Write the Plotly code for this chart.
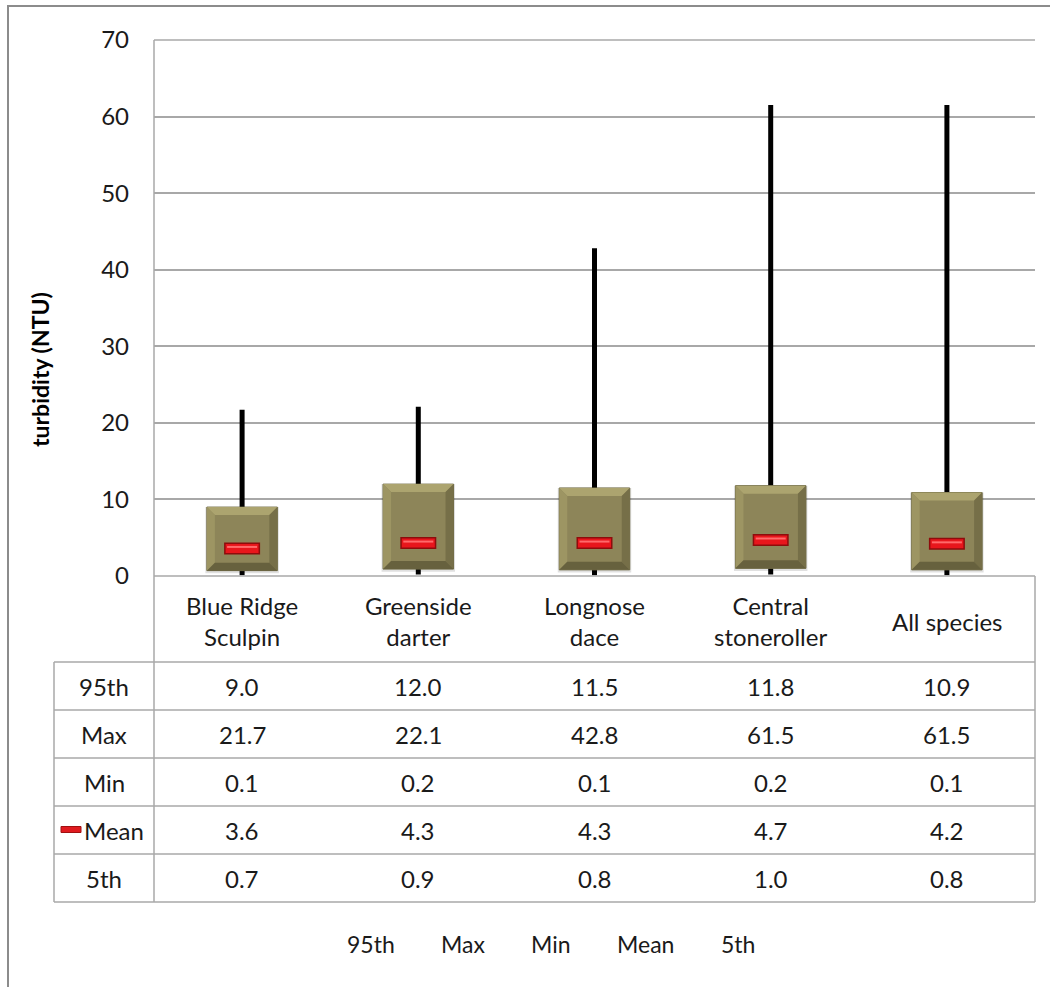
import plotly.graph_objects as go

# ---- data ----
species = ["Blue Ridge<br>Sculpin", "Greenside<br>darter", "Longnose<br>dace",
           "Central<br>stoneroller", "All species"]
p95 = [9.0, 12.0, 11.5, 11.8, 10.9]
vmax = [21.7, 22.1, 42.8, 61.5, 61.5]
vmin = [0.1, 0.2, 0.1, 0.2, 0.1]
vmean = [3.6, 4.3, 4.3, 4.7, 4.2]
p5 = [0.7, 0.9, 0.8, 1.0, 0.8]
row_names = ["95th", "Max", "Min", "Mean", "5th"]
row_values = [p95, vmax, vmin, vmean, p5]
y_ticks = [0, 10, 20, 30, 40, 50, 60, 70]

W, H = 1050, 987
FONT = "Lato"
FS = 24
TXT = "#1a1a1a"
GRID = "#a8a8a8"

# plot area in pixels
PL, PR, PT, PB = 154, 1035, 40, 576
TBL_L = 54
ROW_TOP = 662
ROW_H = 48


def px(x):
    return x / W


def py(y):
    return 1 - y / H


xs = list(range(len(species)))
cat_px = (PR - PL) / len(species)
unit_px = (PB - PT) / (y_ticks[-1] - y_ticks[0])

box_w = 0.40
whisk_w = 5 / cat_px
bev_x = 8 / cat_px
bev_y = 8 / unit_px
mean_half = 18 / cat_px

fig = go.Figure()

# min-max whiskers
fig.add_trace(go.Bar(
    x=xs, base=vmin, y=[a - b for a, b in zip(vmax, vmin)], width=whisk_w,
    marker=dict(color="#000000", line=dict(width=0)), showlegend=False,
    hoverinfo="skip"))

# soft shadow under the boxes
fig.add_trace(go.Bar(
    x=xs, base=[v - 0.35 for v in p5], y=[a - b + 0.35 for a, b in zip(p95, p5)],
    width=box_w + 3 / cat_px,
    marker=dict(color="rgba(0,0,0,0.12)", line=dict(width=0)),
    showlegend=False, hoverinfo="skip"))

# 5th-95th boxes
fig.add_trace(go.Bar(
    x=xs, base=p5, y=[a - b for a, b in zip(p95, p5)], width=box_w,
    marker=dict(color="#8d8559", line=dict(color="#6f6a45", width=1)),
    showlegend=False, hoverinfo="skip"))

# bevelled edges on each box
for c, lo, hi in zip(xs, p5, p95):
    l, r = c - box_w / 2, c + box_w / 2
    faces = [
        ([l, r, r - bev_x, l + bev_x, l], [hi, hi, hi - bev_y, hi - bev_y, hi], "#aca46f"),
        ([l, l + bev_x, l + bev_x, l, l], [hi, hi - bev_y, lo + bev_y, lo, hi], "#9d9563"),
        ([r, r - bev_x, r - bev_x, r, r], [hi, hi - bev_y, lo + bev_y, lo, hi], "#766f48"),
        ([l, r, r - bev_x, l + bev_x, l], [lo, lo, lo + bev_y, lo + bev_y, lo], "#67613e"),
    ]
    for fx, fy, col in faces:
        fig.add_trace(go.Scatter(
            x=fx, y=fy, mode="lines", fill="toself", fillcolor=col,
            line=dict(width=0), showlegend=False, hoverinfo="skip"))

# mean markers
for c, m in zip(xs, vmean):
    fig.add_trace(go.Scatter(
        x=[c - mean_half, c + mean_half], y=[m, m], mode="lines",
        line=dict(color="#8e0c0c", width=12), showlegend=False, hoverinfo="skip"))
    fig.add_trace(go.Scatter(
        x=[c - mean_half + 1.5 / cat_px, c + mean_half - 1.5 / cat_px], y=[m, m],
        mode="lines", line=dict(color="#e8161c", width=9),
        showlegend=False, hoverinfo="skip"))
    fig.add_trace(go.Scatter(
        x=[c - mean_half + 3 / cat_px, c + mean_half - 3 / cat_px],
        y=[m + 1.5 / unit_px, m + 1.5 / unit_px],
        mode="lines", line=dict(color="#ff6a6a", width=2),
        showlegend=False, hoverinfo="skip"))

shapes = []
ann = []

# outer chart frame
shapes.append(dict(type="rect", xref="paper", yref="paper",
                   x0=px(8), x1=px(W + 4), y0=py(H + 4), y1=py(6),
                   line=dict(color="#8c8c8c", width=2)))

# data table lines
TBL_B = ROW_TOP + ROW_H * len(row_names)
line_style = dict(color=GRID, width=1.5)
shapes.append(dict(type="line", xref="paper", yref="paper",
                   x0=px(PL), x1=px(PR), y0=py(PB), y1=py(PB), line=line_style))
shapes.append(dict(type="line", xref="paper", yref="paper",
                   x0=px(PL), x1=px(PR), y0=py(PT), y1=py(PT), line=line_style))
shapes.append(dict(type="line", xref="paper", yref="paper",
                   x0=px(PL), x1=px(PL), y0=py(PT), y1=py(TBL_B), line=line_style))
shapes.append(dict(type="line", xref="paper", yref="paper",
                   x0=px(PR), x1=px(PR), y0=py(PB), y1=py(TBL_B), line=line_style))
shapes.append(dict(type="line", xref="paper", yref="paper",
                   x0=px(TBL_L), x1=px(TBL_L), y0=py(ROW_TOP), y1=py(TBL_B), line=line_style))
for i in range(len(row_names) + 1):
    yy = ROW_TOP + i * ROW_H
    shapes.append(dict(type="line", xref="paper", yref="paper",
                       x0=px(TBL_L), x1=px(PR), y0=py(yy), y1=py(yy), line=line_style))

# category header labels
for i, name in enumerate(species):
    ann.append(dict(xref="paper", yref="paper", x=px(PL + cat_px * (i + 0.5)),
                    y=py((PB + ROW_TOP) / 2 + 2), text=name, showarrow=False,
                    font=dict(family=FONT, size=FS, color=TXT),
                    xanchor="center", yanchor="middle"))

# table rows
for r, (name, vals) in enumerate(zip(row_names, row_values)):
    yc = ROW_TOP + ROW_H * (r + 0.5)
    label_x = (TBL_L + PL) / 2 + (10 if name == "Mean" else 0)
    ann.append(dict(xref="paper", yref="paper", x=px(label_x), y=py(yc),
                    text=name, showarrow=False,
                    font=dict(family=FONT, size=FS, color=TXT),
                    xanchor="center", yanchor="middle"))
    if name == "Mean":
        shapes.append(dict(type="rect", xref="paper", yref="paper",
                           x0=px(61), x1=px(81), y0=py(yc + 2.5), y1=py(yc - 3.5),
                           fillcolor="#e01a1f", line=dict(color="#a01010", width=1)))
    for i, v in enumerate(vals):
        ann.append(dict(xref="paper", yref="paper", x=px(PL + cat_px * (i + 0.5)),
                        y=py(yc), text=f"{v:.1f}", showarrow=False,
                        font=dict(family=FONT, size=FS, color=TXT),
                        xanchor="center", yanchor="middle"))

# series legend
legend_x = [371, 463, 551, 645, 738]
for name, lx in zip(row_names, legend_x):
    ann.append(dict(xref="paper", yref="paper", x=px(lx), y=py(944),
                    text=name, showarrow=False,
                    font=dict(family=FONT, size=FS - 1, color=TXT),
                    xanchor="center", yanchor="middle"))

# y axis title
ann.append(dict(xref="paper", yref="paper", x=px(40), y=py(370),
                text="<b>turbidity (NTU)</b>", textangle=-90, showarrow=False,
                font=dict(family=FONT, size=23, color="#000000"),
                xanchor="center", yanchor="middle"))

fig.update_layout(
    width=W, height=H,
    margin=dict(l=0, r=0, t=0, b=0, autoexpand=False),
    paper_bgcolor="white", plot_bgcolor="white",
    barmode="overlay",
    showlegend=False,
    shapes=shapes,
    annotations=ann,
    xaxis=dict(domain=[px(PL), px(PR)], range=[-0.5, len(species) - 0.5],
               showticklabels=False, showgrid=False, zeroline=False,
               ticks="", fixedrange=True, automargin=False),
    yaxis=dict(domain=[py(PB), py(PT)], range=[y_ticks[0], y_ticks[-1]],
               tickvals=y_ticks, showgrid=True, gridcolor=GRID, gridwidth=1.5,
               zeroline=False, ticks="", ticklabelstandoff=24, automargin=False,
               tickfont=dict(family=FONT, size=FS, color=TXT), fixedrange=True),
)

fig.write_html("out.html")
